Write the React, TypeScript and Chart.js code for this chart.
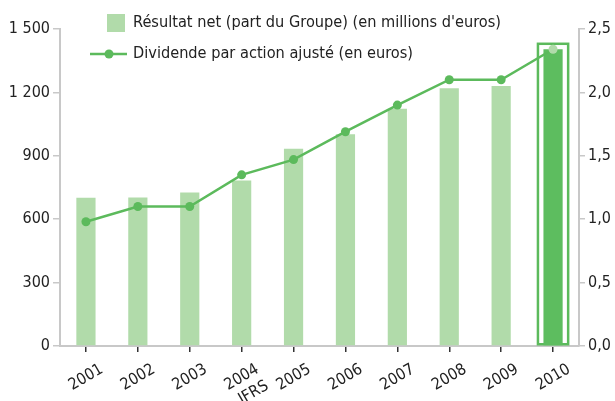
import React, { useEffect, useRef } from "react";
import { Chart, registerables } from "chart.js";

Chart.register(...registerables);

const years: (string | string[])[] = ["2001", "2002", "2003", ["2004", "IFRS"], "2005", "2006", "2007", "2008", "2009", "2010"];
const netIncome = [702, 703, 726, 783, 933, 1002, 1123, 1220, 1230, 1404];
const dividend = [0.98, 1.1, 1.1, 1.35, 1.47, 1.69, 1.9, 2.1, 2.1, 2.34];
const leftTicks = [0, 300, 600, 900, 1200, 1500];
const rightTicks = [0, 0.5, 1, 1.5, 2, 2.5];
const legendLabels = ["Résultat net (part du Groupe) (en millions d'euros)", "Dividende par action ajusté (en euros)"];

const FONT = '"Liberation Sans Narrow", "DejaVu Sans Condensed", "Arial Narrow", sans-serif';
const LIGHT = "#b1dbaa";
const DARK = "#5dbd5f";
const LINE = "#5cba5c";
const AXIS = "#c8c8c8";
const TEXT = "#222222";

const fmtLeft = (v: number) => String(v).replace(/\B(?=(\d{3})+(?!\d))/g, " ");
const fmtRight = (v: number) => v.toFixed(1).replace(".", ",");

const decoPlugin = {
  id: "deco",
  beforeDatasetsDraw(chart: any) {
    const meta = chart.getDatasetMeta(1);
    const bar = meta.data[meta.data.length - 1];
    if (!bar) return;
    const { x, y, base, width } = bar.getProps(["x", "y", "base", "width"], true);
    const ctx = chart.ctx;
    ctx.save();
    ctx.strokeStyle = LINE;
    ctx.lineWidth = 2.5;
    const pad = 5.5;
    ctx.strokeRect(x - width / 2 - pad, y - pad, width + pad * 2, base - y + pad - 1);
    ctx.restore();
  },
  afterDraw(chart: any) {
    const ctx = chart.ctx;
    ctx.save();
    ctx.font = `16.2px ${FONT}`;
    ctx.textBaseline = "middle";
    ctx.textAlign = "left";
    ctx.fillStyle = LIGHT;
    ctx.fillRect(107, 14, 18, 18);
    ctx.fillStyle = TEXT;
    ctx.fillText(legendLabels[0], 133, 23);
    ctx.strokeStyle = LINE;
    ctx.lineWidth = 2.5;
    ctx.beginPath();
    ctx.moveTo(90, 54);
    ctx.lineTo(127, 54);
    ctx.stroke();
    ctx.fillStyle = LINE;
    ctx.beginPath();
    ctx.arc(109, 54, 4.5, 0, Math.PI * 2);
    ctx.fill();
    ctx.fillStyle = TEXT;
    ctx.fillText(legendLabels[1], 133, 54);
    ctx.restore();
  },
};

export default function App() {
  const ref = useRef<HTMLCanvasElement>(null);
  useEffect(() => {
    if (!ref.current) return;
    const pointColors = dividend.map((_, i) => (i === dividend.length - 1 ? LIGHT : LINE));
    const barColors = netIncome.map((_, i) => (i === netIncome.length - 1 ? DARK : LIGHT));
    const chart = new Chart(ref.current, {
      type: "bar",
      data: {
        labels: years as any,
        datasets: [
          {
            type: "line",
            label: legendLabels[1],
            data: dividend,
            yAxisID: "y1",
            borderColor: LINE,
            borderWidth: 2.5,
            pointRadius: 4.5,
            pointBackgroundColor: pointColors,
            pointBorderWidth: 0,
            tension: 0,
          } as any,
          {
            type: "bar",
            label: legendLabels[0],
            data: netIncome,
            yAxisID: "y",
            backgroundColor: barColors,
            categoryPercentage: 1,
            barPercentage: 0.37,
          },
        ],
      },
      options: {
        animation: false,
        responsive: false,
        devicePixelRatio: 1,
        layout: { padding: { top: 29, left: 0, right: 0, bottom: 0 } },
        plugins: { legend: { display: false }, tooltip: { enabled: false } },
        scales: {
          x: {
            offset: true,
            grid: { drawOnChartArea: false, drawTicks: true, tickLength: 6, color: "#333", offset: false, lineWidth: 1.5 },
            border: { display: true, color: AXIS, width: 2 },
            ticks: {
              minRotation: 30,
              maxRotation: 30,
              autoSkip: false,
              font: { family: FONT, size: 16 },
              color: TEXT,
              padding: 8,
              labelOffset: 16,
            },
            afterFit: (s: any) => {
              s.height = 55;
            },
          },
          y: {
            position: "left",
            min: 0,
            max: 1500,
            afterBuildTicks: (s: any) => {
              s.ticks = leftTicks.map((v) => ({ value: v }));
            },
            ticks: { callback: (v: any) => fmtLeft(Number(v)), font: { family: FONT, size: 16 }, color: TEXT, padding: 3 },
            grid: { drawOnChartArea: false, drawTicks: true, tickLength: 7, color: AXIS, lineWidth: 1.5 },
            border: { display: true, color: AXIS, width: 2 },
            afterFit: (s: any) => {
              s.width = 60;
            },
          },
          y1: {
            position: "right",
            min: 0,
            max: 2.5,
            afterBuildTicks: (s: any) => {
              s.ticks = rightTicks.map((v) => ({ value: v }));
            },
            ticks: { callback: (v: any) => fmtRight(Number(v)), font: { family: FONT, size: 16 }, color: TEXT, padding: 3 },
            grid: { drawOnChartArea: false, drawTicks: true, tickLength: 6, color: AXIS, lineWidth: 1.5 },
            border: { display: true, color: AXIS, width: 2 },
            afterFit: (s: any) => {
              s.width = 36;
            },
          },
        },
      },
      plugins: [decoPlugin],
    });
    return () => chart.destroy();
  }, []);
  return (
    <div style={{ position: "absolute", left: 0, top: 0, width: 615, height: 401, background: "#fff" }}>
      <canvas ref={ref} width={615} height={401} style={{ width: 615, height: 401 }} />
    </div>
  );
}
